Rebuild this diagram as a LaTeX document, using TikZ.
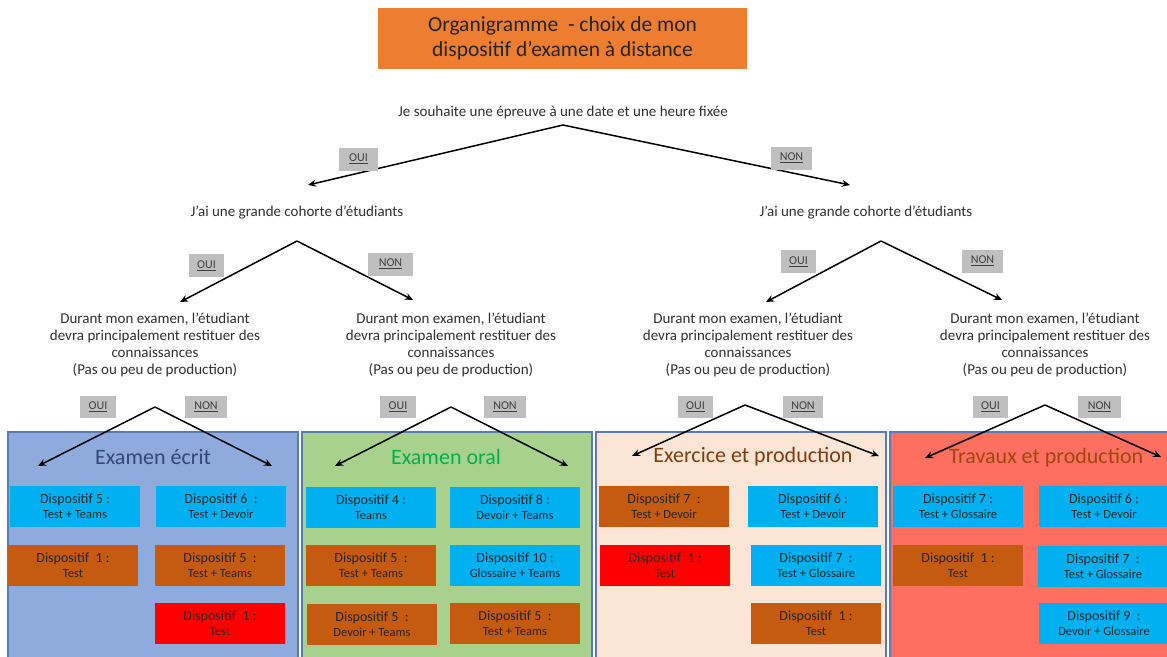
\documentclass[tikz,border=0pt]{standalone}
\usepackage{fontspec}
\setmainfont{Carlito}
\usetikzlibrary{arrows.meta}
\definecolor{titleorange}{HTML}{ED7D31}
\definecolor{labgray}{HTML}{BFBFBF}
\definecolor{labtext}{HTML}{404040}
\definecolor{qtext}{HTML}{303030}
\definecolor{pblue}{HTML}{8FAADC}
\definecolor{pgreen}{HTML}{A9D18E}
\definecolor{ppeach}{HTML}{FBE5D6}
\definecolor{pred}{HTML}{FF6F61}
\definecolor{pborder}{HTML}{5B7BB5}
\definecolor{dcyan}{HTML}{00B0F0}
\definecolor{dbrown}{HTML}{C55A11}
\definecolor{dred}{HTML}{FF0000}
\definecolor{tblue}{HTML}{2F4A7A}
\definecolor{tgreen}{HTML}{00B050}
\definecolor{tbrown}{HTML}{843C0C}
\definecolor{tbrown2}{HTML}{9E480E}
\newcommand\mydbox[6]{\node[disp, fill=#2] (#1) at (#3,#4) {{\fontsize{14}{16}\selectfont #5}\\[3pt]{\fontsize{12.5}{14}\selectfont #6}};}
\begin{document}
\begin{tikzpicture}[x=1pt,y=-1pt,
  arr/.style={-{Stealth[length=8pt,width=7pt]}, line width=1.5pt, black},
  lab/.style={fill=labgray, text=labtext, inner sep=0pt, minimum height=23pt, font=\fontsize{12}{13}\selectfont},
  ques/.style={text=qtext, align=center, inner sep=0pt, font=\fontsize{15}{17}\selectfont},
  panel/.style={draw=pborder, line width=1.2pt},
  ptitle/.style={inner sep=0pt, font=\fontsize{22}{24}\selectfont},
  disp/.style={minimum width=130pt, minimum height=41pt, inner sep=0pt, align=center, text=black!85}
]
\useasboundingbox (0,0) rectangle (1167,656);
\fill[white] (0,0) rectangle (1167,656);

% title
\node[fill=titleorange, minimum width=369pt, minimum height=61pt, inner sep=0pt, align=center,
  text=black!85, font=\fontsize{21.5}{25}\selectfont] (title) at (562.5,38.5)
  {Organigramme \ - choix de mon\\dispositif d'examen à distance};

% level 1
\node[ques] (q0) at (563,112) {Je souhaite une épreuve à une date et une heure fixée};
\coordinate (v0) at (563,125);
\coordinate (t0a) at (308,185);
\coordinate (t0b) at (850,185);
\draw[arr] (v0) -- (t0a);
\draw[arr] (v0) -- (t0b);
\node[lab, minimum width=39pt] (l0a) at (358.5,159) {\underline{OUI}};
\node[lab, minimum width=41pt] (l0b) at (791.5,158) {\underline{NON}};

% level 2
\node[ques] (q1a) at (297,212) {J'ai une grande cohorte d'étudiants};
\node[ques] (q1b) at (866,212) {J'ai une grande cohorte d'étudiants};
\coordinate (v1a) at (297,241);
\coordinate (t1a1) at (180,302);
\coordinate (t1a2) at (413,300);
\coordinate (v1b) at (881,241);
\coordinate (t1b1) at (766,302);
\coordinate (t1b2) at (1002,300);
\draw[arr] (v1a) -- (t1a1);
\draw[arr] (v1a) -- (t1a2);
\draw[arr] (v1b) -- (t1b1);
\draw[arr] (v1b) -- (t1b2);
\node[lab, minimum width=35pt] (l1a1) at (206.5,265.5) {\underline{OUI}};
\node[lab, minimum width=45pt] (l1a2) at (390.5,264) {\underline{NON}};
\node[lab, minimum width=35pt] (l1b1) at (798.5,261.5) {\underline{OUI}};
\node[lab, minimum width=41pt] (l1b2) at (982.5,261) {\underline{NON}};

% level 3
\foreach \n/\x in {q2a/155, q2b/451, q2c/748, q2d/1045}{
  \node[ques] (\n) at (\x,345) {Durant mon examen, l'étudiant\\devra principalement restituer des\\connaissances\\(Pas ou peu de production)};
}

% panels
\fill[pblue] (8,432) rectangle (298,660);
\draw[panel] (8,660) -- (8,432) -- (298,432) -- (298,660);
\fill[pgreen] (302,432) rectangle (592,660);
\draw[panel] (302,660) -- (302,432) -- (592,432) -- (592,660);
\fill[ppeach] (596,432) rectangle (886,660);
\draw[panel] (596,660) -- (596,432) -- (886,432) -- (886,660);
\fill[pred] (890,432) rectangle (1170,660);
\draw[panel] (890,660) -- (890,432) -- (1170,432);

\node[ptitle, text=tblue] (p1) at (153,457) {Examen écrit};
\node[ptitle, text=tgreen] (p2) at (446,457) {Examen oral};
\node[ptitle, text=tbrown] (p3) at (753,457) {Exercice et production};
\node[ptitle, text=tbrown2] (p4) at (1046,458) {Travaux et production};

% level 3 arrows and labels
\coordinate (v2a) at (155,407);
\coordinate (t2a1) at (38,466);
\coordinate (t2a2) at (272,466);
\coordinate (v2b) at (451,407);
\coordinate (t2b1) at (335,466);
\coordinate (t2b2) at (568,466);
\coordinate (v2c) at (745,405);
\coordinate (t2c1) at (632,456);
\coordinate (t2c2) at (879,456);
\coordinate (v2d) at (1045,405);
\coordinate (t2d1) at (925,458);
\coordinate (t2d2) at (1161,457);
\foreach \v/\a/\b in {v2a/t2a1/t2a2, v2b/t2b1/t2b2, v2c/t2c1/t2c2, v2d/t2d1/t2d2}{
  \draw[arr] (\v) -- (\a);
  \draw[arr] (\v) -- (\b);
}
\node[lab, minimum width=36pt, minimum height=22pt] (l2a1) at (98,407) {\underline{OUI}};
\node[lab, minimum width=42pt, minimum height=22pt] (l2a2) at (206,407) {\underline{NON}};
\node[lab, minimum width=36pt, minimum height=22pt] (l2b1) at (398,407) {\underline{OUI}};
\node[lab, minimum width=42pt, minimum height=22pt] (l2b2) at (505,407) {\underline{NON}};
\node[lab, minimum width=35pt, minimum height=22pt] (l2c1) at (695.5,407) {\underline{OUI}};
\node[lab, minimum width=40pt, minimum height=22pt] (l2c2) at (803,407) {\underline{NON}};
\node[lab, minimum width=35pt, minimum height=22pt] (l2d1) at (990.5,407) {\underline{OUI}};
\node[lab, minimum width=43pt, minimum height=22pt] (l2d2) at (1099.5,407) {\underline{NON}};

% panel 1 boxes
\mydbox{d11}{dcyan}{75}{506}{Dispositif 5 :}{Test + Teams}
\mydbox{d12}{dcyan}{221}{506.5}{Dispositif 6 \ :}{Test + Devoir}
\mydbox{d13}{dbrown}{73}{565.5}{Dispositif \ 1 :}{Test}
\mydbox{d14}{dbrown}{220}{565.5}{Dispositif 5 \ :}{Test + Teams}
\mydbox{d15}{dred}{220}{623.5}{Dispositif \ 1 :}{Test}
% panel 2 boxes
\mydbox{d21}{dcyan}{371}{507}{Dispositif 4 :}{Teams}
\mydbox{d22}{dcyan}{515}{507}{Dispositif 8 :}{Devoir + Teams}
\mydbox{d23}{dbrown}{371}{565.5}{Dispositif 5 \ :}{Test + Teams}
\mydbox{d24}{dcyan}{515}{565.5}{Dispositif 10 :}{Glossaire + Teams}
\mydbox{d25}{dbrown}{372}{624}{Dispositif 5 \ :}{Devoir + Teams}
\mydbox{d26}{dbrown}{515}{623.5}{Dispositif 5 \ :}{Test + Teams}
% panel 3 boxes
\mydbox{d31}{dbrown}{664}{506.5}{Dispositif 7 \ :}{Test + Devoir}
\mydbox{d32}{dcyan}{813}{506.5}{Dispositif 6 :}{Test + Devoir}
\mydbox{d33}{dred}{665}{565.5}{Dispositif \ 1 :}{Test}
\mydbox{d34}{dcyan}{816}{565.5}{Dispositif 7 \ :}{Test + Glossaire}
\mydbox{d35}{dbrown}{816}{623.5}{Dispositif \ 1 :}{Test}
% panel 4 boxes
\mydbox{d41}{dcyan}{958}{506.5}{Dispositif 7 :}{Test + Glossaire}
\mydbox{d42}{dcyan}{1104}{506.5}{Dispositif 6 :}{Test + Devoir}
\mydbox{d43}{dbrown}{958}{565.5}{Dispositif \ 1 :}{Test}
\mydbox{d44}{dcyan}{1103}{566}{Dispositif 7 \ :}{Test + Glossaire}
\mydbox{d45}{dcyan}{1104}{623.5}{Dispositif 9 \ :}{Devoir + Glossaire}
\end{tikzpicture}
\end{document}
